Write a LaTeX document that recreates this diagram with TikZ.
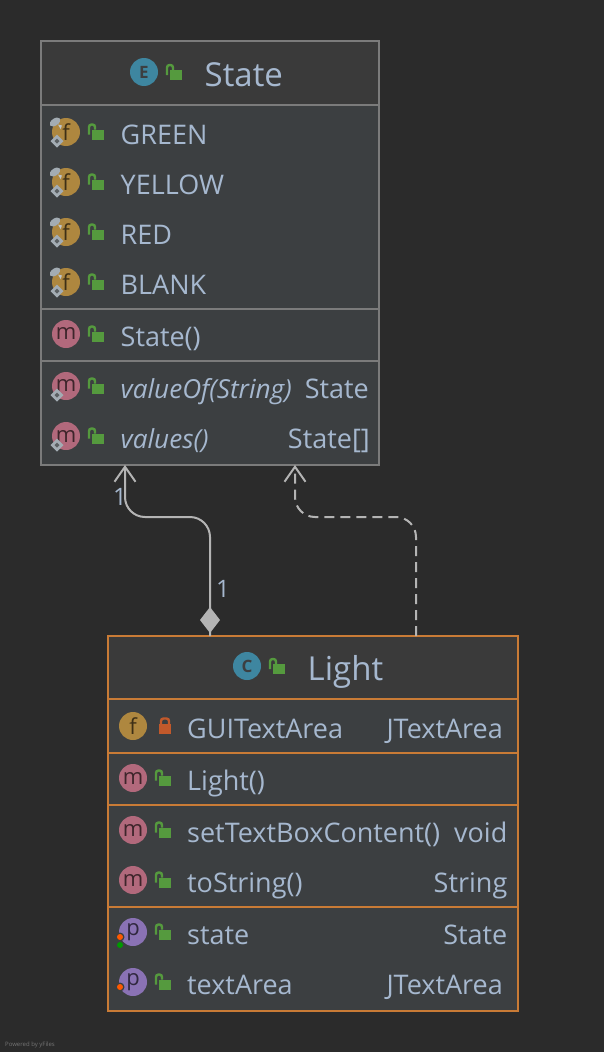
\documentclass[tikz,border=0pt]{standalone}
\usepackage{fontspec}
\setmainfont{Open Sans}
\usepackage{tikz}
\usetikzlibrary{arrows.meta,calc}
\definecolor{canvasbg}{HTML}{2B2B2B}
\definecolor{headbg}{HTML}{3A3A3A}
\definecolor{bodybg}{HTML}{3C3F41}
\definecolor{txtcol}{HTML}{A6B8CF}
\definecolor{greyedge}{HTML}{7B7B7B}
\definecolor{orangeedge}{HTML}{C97B36}
\definecolor{linkcol}{HTML}{B4B4B4}
\definecolor{fcol}{HTML}{AE873F}
\definecolor{mcol}{HTML}{B2697C}
\definecolor{pcol}{HTML}{8A72B4}
\definecolor{ecol}{HTML}{3E86A0}
\definecolor{lockgreen}{HTML}{559A3E}
\definecolor{lockred}{HTML}{C2592B}
\definecolor{pingrey}{HTML}{A3ACB3}
\begin{document}
\begin{tikzpicture}[
  x=1pt,y=-1pt,
  section/.style={draw, line width=2pt, outer sep=0pt, inner sep=0pt, fill=bodybg},
  statesec/.style={section, draw=greyedge, minimum width=338pt},
  lightsec/.style={section, draw=orangeedge, minimum width=410pt},
  head/.style={fill=headbg},
  title/.style={anchor=base west, inner sep=0pt, text=txtcol, font=\fontsize{33}{33}\selectfont},
  rowname/.style={anchor=base west, inner sep=0pt, text=txtcol, font=\fontsize{27}{27}\selectfont},
  rowtype/.style={anchor=base east, inner sep=0pt, text=txtcol, font=\fontsize{27}{27}\selectfont},
  mult/.style={anchor=base, inner sep=0pt, text=txtcol, font=\fontsize{24}{24}\selectfont},
  icon/.style={circle, minimum size=28pt, inner sep=0pt, font=\fontsize{22}{22}\selectfont},
  ficon/.style={icon, fill=fcol, text=fcol!35!black},
  micon/.style={icon, fill=mcol, text=mcol!35!black},
  picon/.style={icon, fill=pcol, text=pcol!35!black},
  eicon/.style={icon, fill=ecol, text=bodybg},
  link/.style={line width=2pt, draw=linkcol, rounded corners=20pt},
  barb/.style={-{Straight Barb[length=15pt,width=21pt,line width=2pt]}},
  openlock/.pic={
    \fill[lockgreen] (-6,-5) rectangle (6,5);
    \draw[lockgreen, line width=2.4pt, rounded corners=2.5pt] (-9,0) -- (-9,-10) -- (-3,-10) -- (-3,-5);
  },
  shutlock/.pic={
    \fill[lockred] (-6,-5) rectangle (6,5);
    \draw[lockred, line width=2.4pt, rounded corners=2.5pt] (-4,-5) -- (-4,-10.5) -- (4,-10.5) -- (4,-5);
  },
  pinmark/.pic={
    \fill[pingrey, rotate=35] (0,0) ellipse (6pt and 3.5pt);
    \fill[pingrey!70!white] (3,2.5) -- (7,3.5) -- (5.5,7) -- cycle;
  },
  staticmark/.pic={
    \fill[pingrey] (-6.5,0) -- (0,-6.5) -- (6.5,0) -- (0,6.5) -- cycle;
    \fill[bodybg!70!pingrey] (-2.5,0) -- (0,-2.5) -- (2.5,0) -- (0,2.5) -- cycle;
  }
]
\useasboundingbox (0,0) rectangle (604,1052);
\fill[canvasbg] (0,0) rectangle (604,1052);

\node[statesec, head, minimum height=64pt] (statehead) at (210,73) {};
\node[statesec, minimum height=204pt] (statefields) at (210,207) {};
\node[statesec, minimum height=52pt] (statector) at (210,335) {};
\node[statesec, minimum height=104pt] (statemethods) at (210,413) {};

\node[lightsec, head, minimum height=63pt] (lighthead) at (313,667.5) {};
\node[lightsec, minimum height=54pt] (lightfield) at (313,726) {};
\node[lightsec, minimum height=52pt] (lightctor) at (313,779) {};
\node[lightsec, minimum height=102pt] (lightmethods) at (313,856) {};
\node[lightsec, minimum height=104pt] (lightprops) at (313,959) {};

\node[eicon] (stateicon) at (144,72) {\fontsize{17}{17}\selectfont\bfseries E};
\pic at (176,75) {openlock};
\node[title] (statetitle) at (204.5,86.3) {State};
\foreach \name/\y in {GREEN/132,YELLOW/182,RED/232,BLANK/282}{
  \node[ficon] (f\y) at (66,\y) {f};
  \pic at ($(f\y.center)+(-11,-10)$) {pinmark};
  \pic at ($(f\y.center)+(-9,9)$) {staticmark};
  \pic at (98,\y+2.5) {openlock};
  \node[rowname] (n\y) at (120.5,\y+12.3) {\name};
}
\node[micon] (statem) at (66,334) {m};
\pic at (98,336.5) {openlock};
\node[rowname] (statectorname) at (120.5,346.3) {State()};
\node[micon] (valueofm) at (66,386) {m};
\pic at ($(valueofm.center)+(-9,9)$) {staticmark};
\pic at (98,388.5) {openlock};
\node[rowname] (valueofname) at (120.5,398.3) {\fontsize{26.2}{26.2}\selectfont\itshape valueOf(String)};
\node[rowtype] (valueoftype) at (369,398.3) {State};
\node[micon] (valuesm) at (66,436) {m};
\pic at ($(valuesm.center)+(-9,9)$) {staticmark};
\pic at (98,438.5) {openlock};
\node[rowname] (valuesname) at (120.5,448.3) {\fontsize{26.2}{26.2}\selectfont\itshape values()};
\node[rowtype] (valuestype) at (370,448.3) {State[]};

\node[eicon] (lighticon) at (247,666) {\fontsize{17}{17}\selectfont\bfseries C};
\pic at (279,669) {openlock};
\node[title] (lighttitle) at (307.5,680.3) {Light};
\node[ficon] (guif) at (133,726) {f};
\pic at (165,729) {shutlock};
\node[rowname] (guiname) at (187,738.3) {GUITextArea};
\node[rowtype] (guitype) at (503,738.3) {JTextArea};
\node[micon] (lightm) at (133,778) {m};
\pic at (165,780.5) {openlock};
\node[rowname] (lightctorname) at (187,790.3) {Light()};
\node[micon] (setm) at (133,830) {m};
\pic at (165,832.5) {openlock};
\node[rowname] (setname) at (187,842.3) {setTextBoxContent()};
\node[rowtype] (settype) at (507.5,842.3) {void};
\node[micon] (strm) at (133,880) {m};
\pic at (165,882.5) {openlock};
\node[rowname] (strname) at (187,892.3) {toString()};
\node[rowtype] (strtype) at (507.5,892.3) {String};
\node[picon] (statep) at (133,932) {p};
\fill[bodybg] (120,937) circle (4.5pt) (120,945) circle (4.5pt);
\fill[orange!70!red] (120,937) circle (3pt);
\fill[green!60!black] (120,945) circle (3pt);
\pic at (165,934.5) {openlock};
\node[rowname] (statepname) at (187,944.3) {state};
\node[rowtype] (stateptype) at (507.5,944.3) {State};
\node[picon] (areap) at (133,982) {p};
\fill[bodybg] (120,987) circle (4.5pt);
\fill[orange!70!red] (120,987) circle (3pt);
\pic at (165,984.5) {openlock};
\node[rowname] (areapname) at (187,994.3) {textArea};
\node[rowtype] (areaptype) at (503,994.3) {JTextArea};

\coordinate (compfrom) at ([xshift=102pt]lighthead.north west);
\coordinate (compto) at ([xshift=84pt]statemethods.south west);
\coordinate (depfrom) at ([xshift=308pt]lighthead.north west);
\coordinate (depto) at ([xshift=254pt]statemethods.south west);
\coordinate (bendline) at (0,517);
\draw[link, barb] (compfrom) -- (compfrom |- bendline) -- (compto |- bendline) -- (compto);
\fill[linkcol] ($(compfrom)+(0,-29)$) -- ($(compfrom)+(10,-16)$) -- ($(compfrom)+(0,-3)$) -- ($(compfrom)+(-10,-16)$) -- cycle;
\draw[link, barb, dash pattern=on 10pt off 6pt] (depfrom) -- (depfrom |- bendline) -- (depto |- bendline) -- (depto);
\node[mult] (stateend) at (120,505) {1};
\node[mult] (lightend) at (223,597) {1};
\node[anchor=base west, inner sep=0pt, text=white!35!canvasbg, font=\fontsize{6}{6}\selectfont] (poweredby) at (5,1046) {Powered by yFiles};
\end{tikzpicture}
\end{document}
